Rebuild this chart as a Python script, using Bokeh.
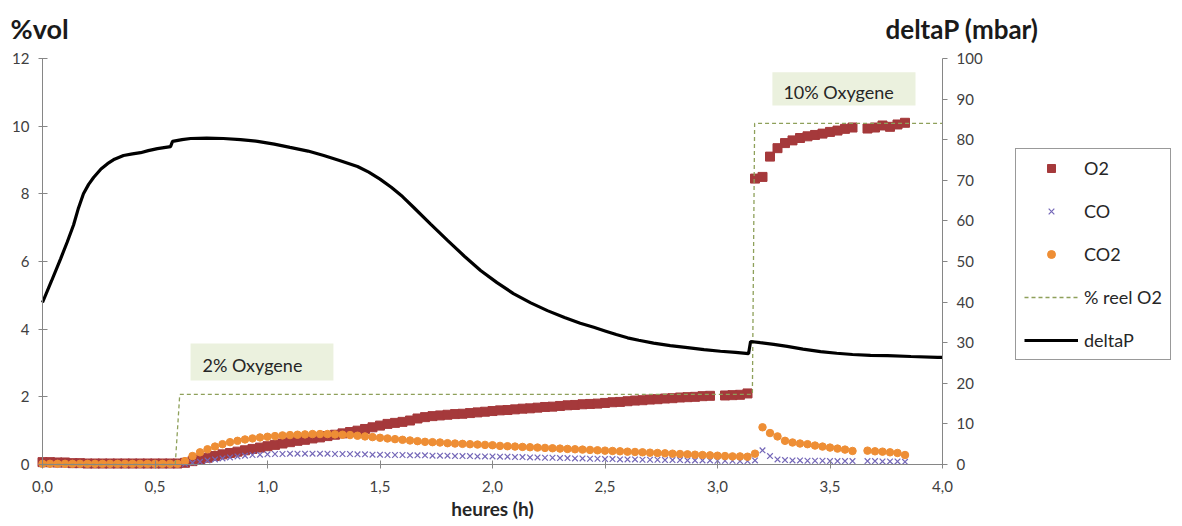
from bokeh.plotting import figure
from bokeh.models import (Range1d, LinearAxis, FixedTicker, Legend, LegendItem,
                          Label, BoxAnnotation, ColumnDataSource)
from bokeh.embed import file_html
from bokeh.resources import INLINE

nan = float("nan")

# ---- data -------------------------------------------------------------
minutes = [0, 2, 4, 6, 8, 10, 12, 14, 16, 18, 20, 22, 24, 26, 28, 30, 32, 34, 36,
           38, 40, 42, 44, 46, 48, 50, 52, 54, 56, 58, 60, 62, 64, 66, 68, 70, 72,
           74, 76, 78, 80, 82, 84, 86, 88, 90, 92, 94, 96, 98, 100, 102, 104, 106,
           108, 110, 112, 114, 116, 118, 120, 122, 124, 126, 128, 130, 132, 134,
           136, 138, 140, 142, 144, 146, 148, 150, 152, 154, 156, 158, 160, 162,
           164, 166, 168, 170, 172, 174, 176, 178, 180, 182, 184, 186, 188,
           190, 192, 194, 196, 198, 200, 202, 204, 206, 208, 210, 212, 214, 216,
           220, 222, 224, 226, 228, 230]

o2 = [0.07, 0.07, 0.06, 0.06,
      0.04, 0.04, 0.03, 0.03, 0.03, 0.03, 0.03, 0.03, 0.03, 0.03, 0.03, 0.03, 0.03, 0.03, 0.03,
      0.05, 0.10, 0.15, 0.20, 0.25, 0.30, 0.34, 0.38, 0.42, 0.46, 0.50, 0.54, 0.58, 0.62,
      0.66, 0.70, 0.73, 0.77, 0.80, 0.84, 0.88, 0.92, 0.96, 1.00, 1.05, 1.10, 1.15, 1.20,
      1.23, 1.26, 1.30, 1.36, 1.40, 1.43, 1.45, 1.47, 1.49, 1.50, 1.52, 1.54, 1.56, 1.58,
      1.60, 1.61, 1.63, 1.65, 1.66, 1.68, 1.70, 1.71, 1.73, 1.75, 1.76, 1.78, 1.79, 1.80,
      1.82, 1.84, 1.85, 1.87, 1.89, 1.90, 1.92, 1.93, 1.95, 1.96, 1.98, 1.99, 2.00, 2.02,
      2.03, nan, 2.04, 2.05, 2.06, 2.10,
      8.45, 8.50, 9.10, 9.35, 9.50, 9.58, 9.65, 9.70, 9.74, 9.78, 9.83, 9.87, 9.92, 9.96,
      9.93, 9.96, 10.02, 9.98, 10.05, 10.10]

co = [0.01, 0.01, 0.01, 0.01, 0.01, 0.01, 0.01, 0.01, 0.01, 0.01,
      0.01, 0.01, 0.01, 0.01, 0.01, 0.01, 0.01, 0.01, 0.01,
      0.02, 0.05, 0.08, 0.12, 0.15, 0.18, 0.21, 0.24, 0.26, 0.28, 0.29, 0.30, 0.31, 0.31,
      0.32, 0.32, 0.32, 0.32, 0.32, 0.32, 0.31, 0.31, 0.31, 0.30, 0.30, 0.29, 0.29, 0.28,
      0.28, 0.28, 0.27, 0.27, 0.27, 0.26, 0.26, 0.26, 0.25, 0.25, 0.25, 0.24, 0.24, 0.24,
      0.23, 0.23, 0.22, 0.22, 0.21, 0.21, 0.20, 0.20, 0.19, 0.19, 0.18, 0.18, 0.17, 0.17,
      0.16, 0.16, 0.15, 0.15, 0.15, 0.14, 0.14, 0.14, 0.13, 0.13, 0.13, 0.12, 0.12, 0.12,
      0.12, 0.11, 0.11, 0.11, 0.10, 0.10,
      0.12, 0.42, 0.25, 0.15, 0.13, 0.12, 0.12, 0.11, 0.11, 0.11, 0.10, 0.10, 0.10, 0.10,
      0.10, 0.10, 0.09, 0.09, 0.09, 0.08]

co2 = [0.02, 0.02, 0.02, 0.02, 0.02, 0.02, 0.02, 0.02, 0.02, 0.02,
       0.02, 0.02, 0.02, 0.02, 0.02, 0.02, 0.02, 0.02, 0.02,
       0.10, 0.25, 0.36, 0.45, 0.53, 0.60, 0.66, 0.70, 0.74, 0.77, 0.80, 0.82, 0.84, 0.86,
       0.87, 0.88, 0.89, 0.90, 0.90, 0.90, 0.89, 0.88, 0.87, 0.85, 0.83, 0.81, 0.79, 0.77,
       0.75, 0.73, 0.71, 0.69, 0.67, 0.66, 0.65, 0.63, 0.62, 0.61, 0.60, 0.59, 0.58, 0.57,
       0.55, 0.54, 0.53, 0.52, 0.51, 0.50, 0.49, 0.48, 0.47, 0.46, 0.45, 0.44, 0.43, 0.42,
       0.41, 0.40, 0.39, 0.38, 0.37, 0.36, 0.35, 0.34, 0.33, 0.32, 0.31, 0.30, 0.29, 0.28,
       0.27, 0.26, 0.25, 0.24, 0.24, 0.23,
       0.32, 1.10, 0.93, 0.83, 0.70, 0.65, 0.62, 0.60, 0.56, 0.53, 0.50, 0.47, 0.44, 0.40,
       0.41, 0.39, 0.38, 0.36, 0.34, 0.28]

# % reel O2 (setpoint, left axis)
reel_t = [0.0, 0.59, 0.61, 3.155, 3.165, 4.0]
reel_v = [0.0, 0.0, 2.07, 2.07, 10.08, 10.08]

# deltaP (mbar, right axis)
dp_t = [0.0, 0.04, 0.08, 0.11, 0.138, 0.16, 0.182, 0.205, 0.227, 0.26, 0.289, 0.32,
        0.36, 0.40, 0.436, 0.47, 0.511, 0.569, 0.578, 0.62, 0.658, 0.73, 0.804, 0.88,
        0.956, 1.03, 1.10, 1.18, 1.25, 1.32, 1.40, 1.45, 1.50, 1.55, 1.60, 1.65, 1.725,
        1.80, 1.875, 1.947, 2.02, 2.093, 2.17, 2.244, 2.32, 2.39, 2.45, 2.50, 2.55,
        2.60, 2.65, 2.716, 2.79, 2.867, 2.94, 3.013, 3.08, 3.138, 3.147, 3.19, 3.25,
        3.31, 3.38, 3.458, 3.53, 3.60, 3.68, 3.756, 3.86, 3.978, 4.0]
dp_v = [39.9, 45.2, 50.6, 54.8, 59.0, 63.2, 66.7, 69.0, 70.7, 72.8, 74.1, 75.2,
        76.1, 76.5, 76.8, 77.3, 77.8, 78.3, 79.6, 80.0, 80.3, 80.4, 80.3, 80.0,
        79.6, 78.9, 78.1, 77.2, 76.1, 74.9, 73.4, 72.0, 70.3, 68.3, 66.0, 63.3, 59.2,
        55.2, 51.3, 47.8, 44.8, 42.1, 39.8, 37.9, 36.2, 34.8, 33.8, 32.9, 32.0,
        31.2, 30.6, 29.9, 29.3, 28.8, 28.3, 27.9, 27.6, 27.3, 30.3, 30.0, 29.6,
        29.1, 28.4, 27.8, 27.4, 27.1, 26.9, 26.8, 26.6, 26.4, 26.4]

x_ticks = [0.0, 0.5, 1.0, 1.5, 2.0, 2.5, 3.0, 3.5, 4.0]
x_tick_labels = ["0,0", "0,5", "1,0", "1,5", "2,0", "2,5", "3,0", "3,5", "4,0"]
y_ticks = [0, 2, 4, 6, 8, 10, 12]
dp_ticks = [0, 10, 20, 30, 40, 50, 60, 70, 80, 90, 100]

for name, s in [("o2", o2), ("co", co), ("co2", co2)]:
    if len(s) != len(minutes):
        raise ValueError(f"{name}: {len(s)} vs {len(minutes)}")
if len(dp_t) != len(dp_v):
    raise ValueError("deltaP lengths differ")

hours = [m / 60.0 for m in minutes]
src = ColumnDataSource(dict(t=hours, o2=o2, co=co, co2=co2))

# ---- geometry (pixels) ------------------------------------------------
W, H = 1180, 524
AX_LEFT, AX_RIGHT = 42, 942      # x = 0 h and x = 4 h
AX_TOP, AX_BOTTOM = 58, 464      # y = 12 %vol and y = 0
px_x = (AX_RIGHT - AX_LEFT) / 4.0
px_y = (AX_BOTTOM - AX_TOP) / 12.0
px_dp = (AX_BOTTOM - AX_TOP) / 100.0

x_rng = Range1d(-AX_LEFT / px_x, (W - AX_LEFT) / px_x)
y_rng = Range1d(-(H - AX_BOTTOM) / px_y, AX_BOTTOM / px_y)
dp_rng = Range1d(-(H - AX_BOTTOM) / px_dp, AX_BOTTOM / px_dp)

# ---- figure -----------------------------------------------------------
FONT = "Lato"
p = figure(width=W, height=H, output_backend="svg", toolbar_location=None,
           x_range=x_rng, y_range=y_rng,
           min_border_left=0, min_border_right=0, min_border_top=0,
           min_border_bottom=0)
p.extra_y_ranges = {"dp": dp_rng}
p.grid.visible = False
p.outline_line_color = None
p.background_fill_color = "white"
p.border_fill_color = "white"

xa = p.xaxis[0]
ya = p.yaxis[0]
xa.fixed_location = 0
ya.fixed_location = 0
xa.bounds = (0, 4)
ya.bounds = (0, 12)
xa.ticker = FixedTicker(ticks=x_ticks)
xa.major_label_overrides = {t: l for t, l in zip(x_ticks, x_tick_labels)}
ya.ticker = FixedTicker(ticks=y_ticks)

right_axis = LinearAxis(y_range_name="dp", ticker=FixedTicker(ticks=dp_ticks),
                        fixed_location=4.0, bounds=(0, 100))
p.add_layout(right_axis, "right")

for ax in (xa, ya, right_axis):
    ax.axis_line_color = "#868686"
    ax.major_tick_line_color = "#868686"
    ax.minor_tick_line_color = None
    ax.major_label_text_font = FONT
    ax.major_label_text_font_size = "15px"
    ax.major_label_text_color = "#404040"
    ax.major_label_standoff = 9

xa.major_tick_in = 4
xa.major_tick_out = 4
xa.major_label_standoff = 12
ya.major_tick_in = 5
ya.major_tick_out = 4
right_axis.major_tick_in = 0
right_axis.major_tick_out = 5

xa.axis_label = "heures (h)"
xa.axis_label_text_font = FONT
xa.axis_label_text_font_style = "bold"
xa.axis_label_text_font_size = "19px"
xa.axis_label_text_color = "#262626"
xa.axis_label_standoff = 2

# ---- series -----------------------------------------------------------
r_o2 = p.scatter("t", "o2", source=src, marker="square", size=9,
                 fill_color="#A5393B", line_color="#A5393B")
r_co = p.scatter("t", "co", source=src, marker="x", size=8,
                 line_color="#7467B8", line_width=1.2)
r_co2 = p.scatter("t", "co2", source=src, marker="circle", size=7.5,
                  fill_color="#EE8E35", line_color="#EE8E35")
r_reel = p.line(reel_t, reel_v, line_color="#8EA05A", line_dash="4 3", line_width=1.3)
r_dp = p.line(dp_t, dp_v, y_range_name="dp", line_color="black", line_width=3.2)

# ---- annotation boxes -------------------------------------------------
p.add_layout(BoxAnnotation(left=0.658, right=1.293, bottom=2.48, top=3.58,
                           fill_color="#EBF1DE", fill_alpha=1.0, line_color=None,
                           level="underlay"))
p.add_layout(BoxAnnotation(left=3.244, right=3.88, bottom=10.61, top=11.59,
                           fill_color="#EBF1DE", fill_alpha=1.0, line_color=None,
                           level="underlay"))
p.add_layout(Label(x=0.711, y=2.93, text="2% Oxygene", text_font=FONT,
                   text_font_size="18px", text_color="#262626",
                   text_baseline="middle", text_align="left"))
p.add_layout(Label(x=3.293, y=11.0, text="10% Oxygene", text_font=FONT,
                   text_font_size="18px", text_color="#262626",
                   text_baseline="middle", text_align="left"))

# ---- axis titles ------------------------------------------------------
p.add_layout(Label(x=10, y=H - 28, x_units="screen", y_units="screen", text="%vol",
                   text_font=FONT, text_font_style="bold", text_font_size="27px",
                   text_color="#1a1a1a", text_baseline="alphabetic"))
p.add_layout(Label(x=885, y=H - 28, x_units="screen", y_units="screen",
                   text="deltaP (mbar)", text_font=FONT, text_font_style="bold",
                   text_font_size="26px", text_color="#1a1a1a",
                   text_baseline="alphabetic"))

# ---- legend -----------------------------------------------------------
legend = Legend(items=[LegendItem(label="O2", renderers=[r_o2]),
                       LegendItem(label="CO", renderers=[r_co]),
                       LegendItem(label="CO2", renderers=[r_co2]),
                       LegendItem(label="% reel O2", renderers=[r_reel]),
                       LegendItem(label="deltaP", renderers=[r_dp])],
                location=(1015, H - 360))
legend.label_text_font = FONT
legend.label_text_font_size = "18px"
legend.label_text_color = "#262626"
legend.border_line_color = "#333333"
legend.border_line_width = 1
legend.background_fill_color = "white"
legend.background_fill_alpha = 1.0
legend.padding = 8
legend.spacing = 21
legend.label_height = 20
legend.glyph_height = 20
legend.glyph_width = 54
legend.label_standoff = 6
legend.margin = 0
p.add_layout(legend)

open("out.html", "w").write(file_html(p, INLINE))
